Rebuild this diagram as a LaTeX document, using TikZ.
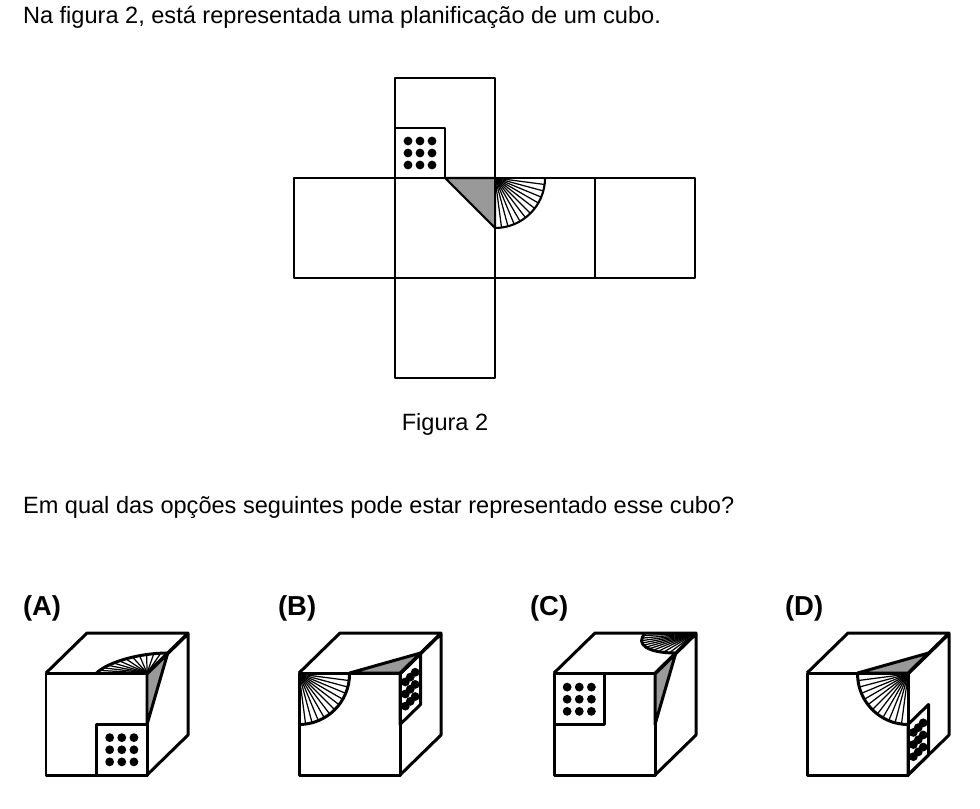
\documentclass[tikz,border=0pt]{standalone}
\usepackage{fontspec}
\setmainfont{Liberation Sans}
\tikzset{>=latex}
\tikzset{
  front/.style={shift={(#1,775)}, x={(1.01cm,0cm)}, y={(0cm,1.01cm)}},
  side/.style={shift={(#1+101,775)}, x={(0.41cm,0.40cm)}, y={(0cm,1.01cm)}},
  top/.style={shift={(#1,673)}, x={(1.01cm,0cm)}, y={(0.41cm,0.40cm)}},
  netsq/.style={shift={#1}, x={(1cm,0cm)}, y={(0cm,1cm)}},
  txt/.style={font=\fontsize{6.7}{8}\selectfont, inner sep=0pt},
  lab/.style={font=\fontsize{7.8}{9}\selectfont\bfseries, inner sep=0pt}
}
\newcommand*{\dotbox}[2]{%
  \draw (#1,#2) -- ++(0.5,0) -- ++(0,0.5) -- ++(-0.5,0) -- cycle;
  \foreach \i in {0.13,0.25,0.37}
    \foreach \j in {0.13,0.25,0.37}
      \fill (#1+\i,#2+\j) circle[radius=0.044cm];}
\newcommand*{\fanq}[3]{%
  \foreach \k in {0,...,12}
    \draw[line width=0.35pt] (#1,#2) -- ++(#3+\k*90/12:0.5);
  \draw (#1,#2) ++(#3:0.5) arc[start angle=#3, delta angle=90, radius=0.5];}
\newcommand*{\graytri}[3]{\filldraw[fill=gray!80] #1 -- #2 -- #3 -- cycle;}
\begin{document}
\begin{tikzpicture}[x=0.01cm, y=-0.01cm, line width=0.6pt, line join=round]
  \useasboundingbox (0,0) rectangle (980,808);
  \node[txt, anchor=west] (intro) at (22,17) {Na figura 2, está representada uma planificação de um cubo.};
  \node[txt] (cap) at (445,424) {Figura 2};
  \node[txt, anchor=west] (quest) at (22,507) {Em qual das opções seguintes pode estar representado esse cubo?};
  % planificacao
  \draw (395,78) rectangle (495,178);
  \draw (294,178) rectangle (695,278);
  \foreach \x in {395,495,595} \draw (\x,178) -- (\x,278);
  \draw (395,278) rectangle (495,378);
  \begin{scope}[netsq={(395,178)}] \dotbox{0}{0} \end{scope}
  \begin{scope}[netsq={(395,278)}] \graytri{(0.5,1)}{(1,1)}{(1,0.5)} \end{scope}
  \begin{scope}[netsq={(495,278)}] \fanq{0}{1}{270} \end{scope}
  % opcoes
  \node[lab, anchor=west] (lA) at (22,608) {(A)};
  \node[lab, anchor=west] (lB) at (277,608) {(B)};
  \node[lab, anchor=west] (lC) at (529,608) {(C)};
  \node[lab, anchor=west] (lD) at (784,608) {(D)};
  \begin{scope}[line width=0.85pt]
    % (A)
    \begin{scope}[front=46] \draw (0,0) rectangle (1,1); \dotbox{0.5}{0} \end{scope}
    \begin{scope}[side=46] \draw (0,0) -- (1,0) -- (1,1) -- (0,1); \graytri{(0,1)}{(0.5,1)}{(0,0.5)} \end{scope}
    \begin{scope}[top=46] \draw (0,0) -- (0,1) -- (1,1) -- (1,0); \fanq{1}{0}{90} \end{scope}
    % (B)
    \begin{scope}[front=299] \draw (0,0) rectangle (1,1); \fanq{0}{1}{270} \end{scope}
    \begin{scope}[side=299] \draw (0,0) -- (1,0) -- (1,1) -- (0,1); \dotbox{0}{0.5} \end{scope}
    \begin{scope}[top=299] \draw (0,0) -- (0,1) -- (1,1) -- (1,0); \graytri{(0.5,0)}{(1,0)}{(1,0.5)} \end{scope}
    % (C)
    \begin{scope}[front=554] \draw (0,0) rectangle (1,1); \dotbox{0}{0.5} \end{scope}
    \begin{scope}[side=554] \draw (0,0) -- (1,0) -- (1,1) -- (0,1); \graytri{(0,1)}{(0.5,1)}{(0,0.5)} \end{scope}
    \begin{scope}[top=554] \draw (0,0) -- (0,1) -- (1,1) -- (1,0); \fanq{1}{1}{180} \end{scope}
    % (D)
    \begin{scope}[front=807] \draw (0,0) rectangle (1,1); \fanq{1}{1}{180} \end{scope}
    \begin{scope}[side=807] \draw (0,0) -- (1,0) -- (1,1) -- (0,1); \dotbox{0}{0} \end{scope}
    \begin{scope}[top=807] \draw (0,0) -- (0,1) -- (1,1) -- (1,0); \graytri{(0.5,0)}{(1,0)}{(1,0.5)} \end{scope}
  \end{scope}
\end{tikzpicture}
\end{document}
